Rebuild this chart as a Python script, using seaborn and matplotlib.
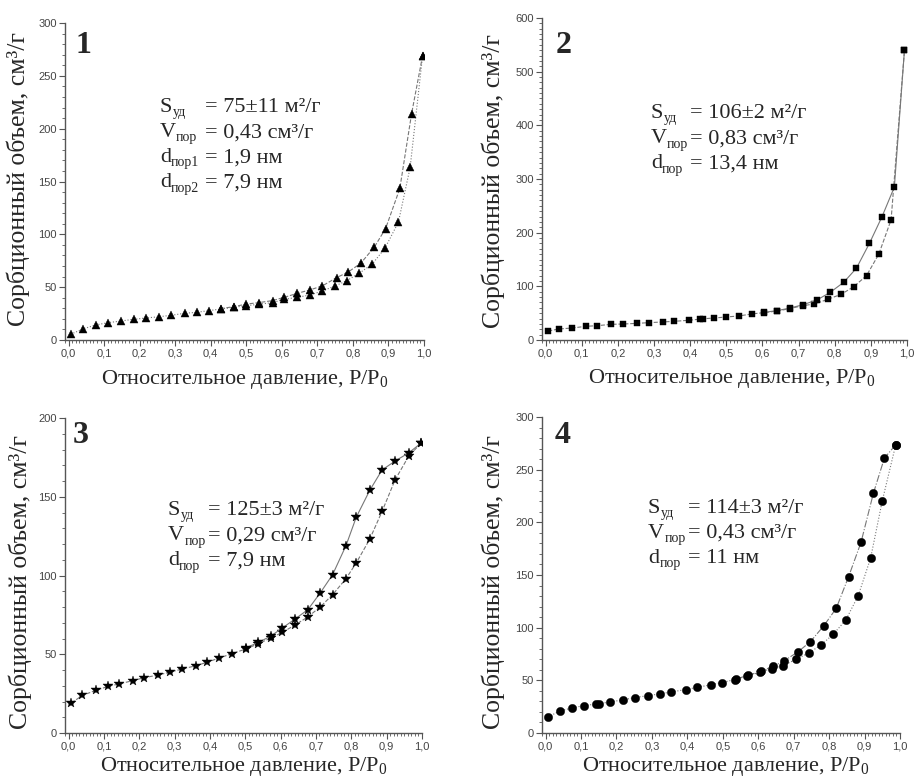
import numpy as np
import pandas as pd
import matplotlib
matplotlib.use("Agg")
import matplotlib.pyplot as plt
import seaborn as sns
from matplotlib.ticker import MultipleLocator, FuncFormatter

# --- data (P/P0, cm3/g) ---
# 1: triangles
ads1_x = [0.006, 0.040, 0.076, 0.111, 0.148, 0.183, 0.217, 0.254, 0.289, 0.327, 0.360, 0.395, 0.430,
          0.466, 0.500, 0.536, 0.574, 0.607, 0.644, 0.679, 0.714, 0.750, 0.782, 0.817, 0.854, 0.890,
          0.928, 0.961, 0.996]
ads1_y = [5.4, 10.4, 14.2, 16.4, 18.0, 19.6, 20.8, 22.0, 23.4, 25.3, 26.2, 27.8, 29.4,
          31.0, 32.5, 33.8, 35.4, 38.5, 40.4, 42.6, 46.4, 51.2, 56.0, 63.0, 71.7, 86.8,
          111.5, 163.3, 269.0]
des1_x = [0.996, 0.965, 0.932, 0.892, 0.860, 0.822, 0.787, 0.754, 0.714, 0.679, 0.644, 0.607,
          0.574, 0.536, 0.500, 0.466, 0.430]
des1_y = [269.0, 214.0, 143.4, 105.5, 87.8, 72.6, 64.4, 59.0, 51.2, 47.4, 44.2, 40.4,
          37.3, 35.4, 34.0, 31.6, 29.8]

# 2: squares
ads2_x = [0.007, 0.037, 0.074, 0.112, 0.143, 0.182, 0.215, 0.252, 0.286, 0.324, 0.355, 0.396, 0.427,
          0.435, 0.467, 0.500, 0.535, 0.570, 0.604, 0.641, 0.676, 0.711, 0.744, 0.781, 0.818, 0.853,
          0.888, 0.922, 0.956, 0.993]
ads2_y = [16.8, 20.5, 22.4, 25.5, 26.7, 29.2, 29.8, 31.0, 32.3, 33.6, 34.8, 36.7, 38.8,
          39.5, 41.0, 42.9, 44.8, 48.5, 51.0, 54.0, 58.5, 64.0, 67.0, 75.9, 85.2, 99.5,
          120.0, 160.0, 224.0, 540.0]
des2_x = [0.993, 0.965, 0.931, 0.896, 0.860, 0.825, 0.788, 0.751, 0.711, 0.676, 0.641, 0.604]
des2_y = [540.0, 285.0, 230.0, 180.0, 133.7, 107.6, 89.0, 74.6, 65.5, 59.5, 54.8, 51.5]

# 3: stars
ads3_x = [0.008, 0.039, 0.078, 0.112, 0.142, 0.181, 0.214, 0.253, 0.288, 0.321, 0.360, 0.392, 0.426,
          0.463, 0.501, 0.537, 0.572, 0.605, 0.641, 0.677, 0.712, 0.747, 0.785, 0.814, 0.852, 0.887,
          0.924, 0.962, 0.997]
ads3_y = [19.0, 23.9, 27.1, 29.6, 31.1, 33.2, 35.1, 36.8, 38.7, 40.6, 42.7, 44.9, 47.6,
          50.4, 53.3, 56.7, 60.3, 63.9, 68.6, 73.7, 80.0, 87.8, 98.0, 108.0, 123.0, 140.7,
          160.8, 175.6, 184.0]
des3_x = [0.997, 0.962, 0.924, 0.887, 0.852, 0.814, 0.785, 0.747, 0.712, 0.677, 0.641, 0.605,
          0.572, 0.537, 0.501]
des3_y = [184.0, 177.8, 172.7, 167.0, 154.0, 137.0, 119.0, 100.5, 88.9, 78.3, 72.4, 66.7,
          61.5, 57.5, 54.0]

# 4: circles
ads4_x = [0.007, 0.040, 0.075, 0.108, 0.141, 0.151, 0.182, 0.218, 0.251, 0.289, 0.323, 0.355, 0.395,
          0.428, 0.466, 0.497, 0.534, 0.569, 0.605, 0.638, 0.670, 0.706, 0.743, 0.778, 0.812, 0.847,
          0.882, 0.917, 0.950, 0.988]
ads4_y = [15.2, 20.9, 23.8, 26.0, 27.4, 27.8, 29.5, 31.4, 33.6, 35.5, 37.1, 39.0, 41.2,
          43.4, 45.7, 47.9, 50.7, 54.2, 57.7, 61.2, 64.0, 69.8, 76.1, 83.7, 93.9, 107.2,
          130.3, 165.9, 220.4, 273.7]
des4_x = [0.988, 0.956, 0.925, 0.890, 0.855, 0.820, 0.785, 0.747, 0.712, 0.673, 0.642, 0.607,
          0.572, 0.536]
des4_y = [273.7, 261.0, 227.7, 181.0, 148.4, 118.3, 101.8, 86.6, 77.0, 68.5, 63.4, 58.5,
          54.8, 51.2]

panel_names = ["1", "2", "3", "4"]
markers = ["^", "s", "*", "o"]
y_max = [300, 600, 200, 300]
y_major = [50, 100, 50, 50]
info_labels = [
    [("S", "уд", "= 75±11 м²/г"), ("V", "пор", "= 0,43 см³/г"),
     ("d", "пор1", "= 1,9 нм"), ("d", "пор2", "= 7,9 нм")],
    [("S", "уд", "= 106±2 м²/г"), ("V", "пор", "= 0,83 см³/г"), ("d", "пор", "= 13,4 нм")],
    [("S", "уд", "= 125±3 м²/г"), ("V", "пор", "= 0,29 см³/г"), ("d", "пор", "= 7,9 нм")],
    [("S", "уд", "= 114±3 м²/г"), ("V", "пор", "= 0,43 см³/г"), ("d", "пор", "= 11 нм")],
]
ads = [(ads1_x, ads1_y), (ads2_x, ads2_y), (ads3_x, ads3_y), (ads4_x, ads4_y)]
des = [(des1_x, des1_y), (des2_x, des2_y), (des3_x, des3_y), (des4_x, des4_y)]

sns.set_style("ticks")
plt.rcParams["font.family"] = ["Liberation Serif", "DejaVu Serif"]
plt.rcParams["mathtext.fontset"] = "custom"
plt.rcParams["mathtext.rm"] = "Liberation Serif"
plt.rcParams["mathtext.it"] = "Liberation Serif:italic"

fig = plt.figure(figsize=(9.15, 7.78), dpi=100)
W, H = 915, 778
# axes boxes in pixels: left, right, top, bottom
boxes = [(65, 424, 23, 340), (542, 907, 18, 340), (65, 422, 418, 733), (542, 900, 417, 733)]
ads_style = [":", "--", "--", ":"]
des_style = ["--", "-", "-", "-."]
ms = [6, 5, 7.5, 6]
# text placement in axes fraction: label x, "=" x, first baseline y, step
txt_pos = [(0.264, 0.39, 0.719, 0.079), (0.298, 0.405, 0.689, 0.078),
           (0.288, 0.40, 0.692, 0.080), (0.296, 0.408, 0.696, 0.079)]
num_pos = [(0.028, 0.905), (0.036, 0.891), (0.022, 0.92), (0.036, 0.918)]
ylab_pos = [(-0.097, 0.508), (-0.101, 0.494), (-0.092, 0.48), (-0.103, 0.478)]
xlab_pos = [(0.50, -0.088), (0.52, -0.084), (0.50, -0.071), (0.514, -0.071)]

comma = FuncFormatter(lambda v, p: f"{v:.1f}".replace(".", ","))

for i in range(4):
    l, r, t, b = boxes[i]
    ax = fig.add_axes([l / W, 1 - b / H, (r - l) / W, (b - t) / H])

    ax_df = pd.DataFrame({"x": ads[i][0], "y": ads[i][1]})
    de_df = pd.DataFrame({"x": des[i][0], "y": des[i][1]})
    sns.lineplot(data=ax_df, x="x", y="y", ax=ax, sort=False, estimator=None,
                 color="#777777", lw=0.8, linestyle=ads_style[i],
                 marker=markers[i], markersize=ms[i], markerfacecolor="black",
                 markeredgecolor="black", markeredgewidth=0.3)
    sns.lineplot(data=de_df, x="x", y="y", ax=ax, sort=False, estimator=None,
                 color="#777777", lw=0.8, linestyle=des_style[i],
                 marker=markers[i], markersize=ms[i], markerfacecolor="black",
                 markeredgecolor="black", markeredgewidth=0.3)

    ax.set_xlim(-0.01, 1.0)
    ax.set_ylim(0, y_max[i])
    ax.xaxis.set_major_locator(MultipleLocator(0.1))
    ax.xaxis.set_minor_locator(MultipleLocator(0.01))
    ax.xaxis.set_major_formatter(comma)
    ax.yaxis.set_major_locator(MultipleLocator(y_major[i]))
    ax.yaxis.set_minor_locator(MultipleLocator(10))
    for s in ["top", "right"]:
        ax.spines[s].set_visible(False)
    for s in ["left", "bottom"]:
        ax.spines[s].set_color("#555555")
        ax.spines[s].set_linewidth(1.0)
    ax.tick_params(which="major", length=4, width=0.8, color="#555555",
                   labelsize=8, labelcolor="#444444", pad=2)
    ax.tick_params(which="minor", length=2.5, width=0.6, color="#555555")
    for lab in ax.get_xticklabels() + ax.get_yticklabels():
        lab.set_family(["Liberation Sans", "DejaVu Sans"])

    ax.set_xlabel("Относительное давление, P/P$_\\mathrm{0}$", fontsize=16)
    ax.set_ylabel("Сорбционный объем, см³/г", fontsize=18.5)
    ax.xaxis.set_label_coords(*xlab_pos[i])
    ax.xaxis.label.set_va("top")
    ax.yaxis.set_label_coords(*ylab_pos[i])

    ax.text(num_pos[i][0], num_pos[i][1], panel_names[i], transform=ax.transAxes,
            fontsize=23, fontweight="bold", va="baseline", ha="left")

    x0, x1, y0, dy = txt_pos[i]
    for k, (main, sub, val) in enumerate(info_labels[i]):
        yy = y0 - k * dy
        tm = ax.text(x0, yy, main, transform=ax.transAxes, fontsize=16, va="baseline")
        ax.annotate(sub, xy=(1, 0), xycoords=tm, xytext=(0.2, 0.5),
                    textcoords="offset points", fontsize=10, va="baseline", ha="left")
        ax.text(x1, yy, val, transform=ax.transAxes, fontsize=16, va="baseline")

fig.savefig("out.png", dpi=100)
